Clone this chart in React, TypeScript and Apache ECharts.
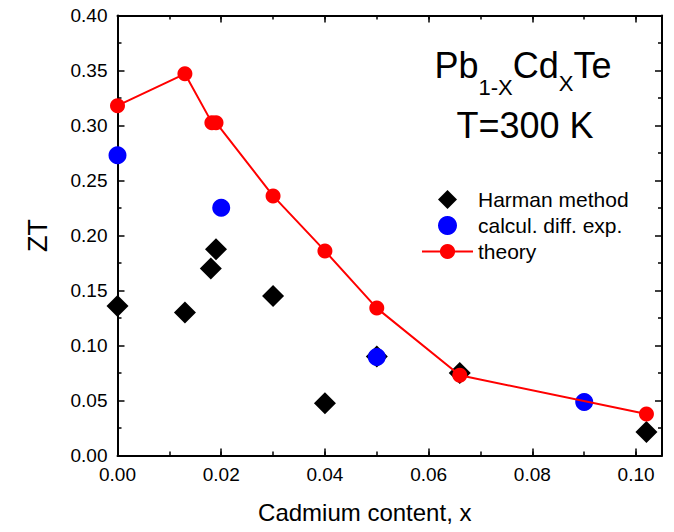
import React, { useEffect, useRef } from "react";
import * as echarts from "echarts";

// Harman method (black diamonds)
const harmanX = [0, 0.013, 0.018, 0.019, 0.03, 0.04, 0.05, 0.066, 0.102];
const harmanZT = [0.136, 0.13, 0.17, 0.1875, 0.145, 0.0475, 0.09, 0.075, 0.0214];

// calcul. diff. exp. (blue circles)
const diffX = [0, 0.02, 0.05, 0.09];
const diffZT = [0.273, 0.2253, 0.0895, 0.0486];

// theory (red line with circles)
const theoryX = [0, 0.013, 0.0182, 0.019, 0.03, 0.04, 0.05, 0.066, 0.102];
const theoryZT = [0.318, 0.347, 0.3026, 0.3026, 0.236, 0.186, 0.134, 0.073, 0.0377];

const seriesNames = ["Harman method", "calcul. diff. exp.", "theory"];
const xTitle = "Cadmium content, x";
const yTitle = "ZT";

const FONT = "'Liberation Sans', Arial, Helvetica, sans-serif";
const DIAMOND = "path://M0,-1L1,0L0,1L-1,0Z";

const pairs = (xs: number[], ys: number[]) => xs.map((x, i) => [x, ys[i]]);

export default function App() {
  const ref = useRef<HTMLDivElement>(null);

  useEffect(() => {
    if (!ref.current) return;
    const chart = echarts.init(ref.current, null, { renderer: "svg" });

    const xMin = 0;
    const xMax = 0.105;
    const axisLineStyle = { color: "#000", width: 2 };
    const tickStyle = { color: "#000", width: 1.5 };

    const xBase = {
      type: "value" as const,
      min: xMin,
      max: xMax,
      gridIndex: 0,
      splitLine: { show: false },
    };

    const yBase = {
      type: "value" as const,
      min: 0,
      max: 0.4,
      interval: 0.05,
      splitLine: { show: false },
      axisLine: { show: true, onZero: false, lineStyle: axisLineStyle },
      axisTick: { show: true, inside: true, length: 7, lineStyle: tickStyle },
      minorTick: { show: true, splitNumber: 2, length: 4, lineStyle: tickStyle },
    };

    chart.setOption({
      animation: false,
      backgroundColor: "#fff",
      textStyle: { fontFamily: FONT },
      grid: { left: 117.5, right: 12, top: 15.5, bottom: 76.5, containLabel: false },
      xAxis: [
        {
          ...xBase,
          position: "bottom",
          interval: 0.02,
          name: xTitle,
          nameLocation: "middle",
          nameGap: 45,
          nameTextStyle: {
            fontSize: 24,
            color: "#000",
            fontFamily: FONT,
            padding: [0, 50, 0, 0],
          },
          axisLine: { show: true, onZero: false, lineStyle: axisLineStyle },
          axisTick: { show: true, inside: true, length: 7, lineStyle: tickStyle },
          axisLabel: {
            show: true,
            margin: 9,
            fontSize: 19,
            color: "#000",
            fontFamily: FONT,
            showMaxLabel: false,
            formatter: (v: number) => v.toFixed(2),
          },
        },
        {
          ...xBase,
          position: "bottom",
          interval: 0.01,
          axisLine: { show: false, onZero: false },
          axisTick: { show: true, inside: true, length: 4, lineStyle: tickStyle },
          axisLabel: { show: false },
        },
        {
          ...xBase,
          position: "top",
          interval: 0.02,
          axisLine: { show: true, onZero: false, lineStyle: axisLineStyle },
          axisTick: { show: true, inside: true, length: 7, lineStyle: tickStyle },
          axisLabel: { show: false },
        },
        {
          ...xBase,
          position: "top",
          interval: 0.01,
          axisLine: { show: false, onZero: false },
          axisTick: { show: true, inside: true, length: 4, lineStyle: tickStyle },
          axisLabel: { show: false },
        },
      ],
      yAxis: [
        {
          ...yBase,
          position: "left",
          name: yTitle,
          nameLocation: "middle",
          nameGap: 66,
          nameTextStyle: { fontSize: 27, color: "#000", fontFamily: FONT },
          axisLabel: {
            show: true,
            margin: 10,
            fontSize: 19,
            color: "#000",
            fontFamily: FONT,
            formatter: (v: number) => v.toFixed(2),
          },
        },
        {
          ...yBase,
          position: "right",
          axisLabel: { show: false },
        },
      ],
      legend: {
        show: true,
        orient: "vertical",
        left: 416,
        top: 184,
        itemWidth: 51,
        itemHeight: 19,
        itemGap: 5,
        symbolKeepAspect: true,
        textStyle: { fontSize: 21, color: "#000", fontFamily: FONT },
        data: [
          { name: seriesNames[0], icon: DIAMOND },
          { name: seriesNames[1], icon: "circle" },
          { name: seriesNames[2] },
        ],
      },
      series: [
        {
          name: seriesNames[0],
          type: "scatter",
          xAxisIndex: 0,
          yAxisIndex: 0,
          symbol: "diamond",
          symbolSize: 22,
          itemStyle: { color: "#000", opacity: 1 },
          data: pairs(harmanX, harmanZT),
        },
        {
          name: seriesNames[1],
          type: "scatter",
          xAxisIndex: 0,
          yAxisIndex: 0,
          symbol: "circle",
          symbolSize: 18,
          itemStyle: { color: "#0000ff", opacity: 1 },
          data: pairs(diffX, diffZT),
        },
        {
          name: seriesNames[2],
          type: "line",
          xAxisIndex: 0,
          yAxisIndex: 0,
          symbol: "circle",
          symbolSize: 15,
          showAllSymbol: true,
          lineStyle: { color: "#ff0000", width: 2 },
          itemStyle: { color: "#ff0000", opacity: 1 },
          data: pairs(theoryX, theoryZT),
        },
      ],
      graphic: [
        {
          type: "text",
          x: 523,
          y: 47,
          style: {
            text: "{a|Pb}{s1|1-X}{a|Cd}{s2|X}{a|Te}",
            align: "center",
            verticalAlign: "top",
            fill: "#000",
            rich: {
              a: { fontSize: 36, fontFamily: FONT, fill: "#000", verticalAlign: "top" },
              s1: { fontSize: 22, fontFamily: FONT, fill: "#000", verticalAlign: "top", padding: [29, 0, 0, 0] },
              s2: { fontSize: 22, fontFamily: FONT, fill: "#000", verticalAlign: "top", padding: [25, 0, 0, 0] },
            },
          },
        },
        {
          type: "text",
          x: 525,
          y: 125,
          style: {
            text: "T=300 K",
            align: "center",
            verticalAlign: "middle",
            fontSize: 36,
            fontFamily: FONT,
            fill: "#000",
          },
        },
      ],
    });

    return () => chart.dispose();
  }, []);

  return (
    <div
      ref={ref}
      style={{ position: "fixed", left: 0, top: 0, width: 674, height: 532, background: "#fff" }}
    />
  );
}
